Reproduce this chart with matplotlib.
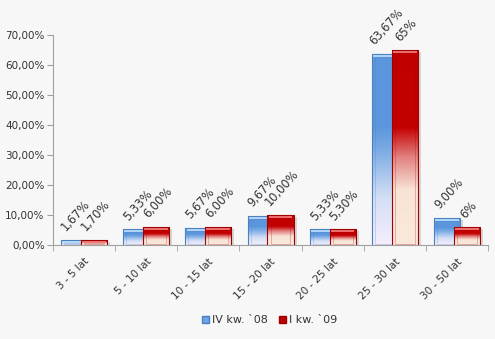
import numpy as np
import matplotlib.pyplot as plt
from matplotlib.colors import LinearSegmentedColormap
from matplotlib.patches import Rectangle, Patch

categories = ["3 - 5 lat", "5 - 10 lat", "10 - 15 lat", "15 - 20 lat",
              "20 - 25 lat", "25 - 30 lat", "30 - 50 lat"]
q4_08 = [1.67, 5.33, 5.67, 9.67, 5.33, 63.67, 9.00]
q1_09 = [1.70, 6.00, 6.00, 10.00, 5.30, 65.0, 6.0]
q4_labels = ["1,67%", "5,33%", "5,67%", "9,67%", "5,33%", "63,67%", "9,00%"]
q1_labels = ["1,70%", "6,00%", "6,00%", "10,00%", "5,30%", "65%", "6%"]
series_names = ["IV kw. `08", "I kw. `09"]
yticks = [0, 10, 20, 30, 40, 50, 60, 70]

bg = "#f7f7f7"
txt = "#333333"

blue_cmap = LinearSegmentedColormap.from_list("b", [
    (0.0, "#f6effc"), (0.25, "#d3def5"), (0.5, "#7aaae4"),
    (0.62, "#5b96dd"), (1.0, "#5b96dd")])
red_cmap = LinearSegmentedColormap.from_list("r", [
    (0.0, "#fae9da"), (0.28, "#f8e4d6"), (0.45, "#e28080"),
    (0.6, "#c40000"), (1.0, "#c00000")])

fig = plt.figure(figsize=(4.95, 3.39), dpi=100, facecolor=bg)
ax = fig.add_axes([0.107, 0.277, 0.879, 0.62], facecolor=bg)

x = np.arange(len(categories))
w = 0.42
off = 0.16
grad = np.linspace(0, 1, 256).reshape(-1, 1)


def draw_bars(xs, vals, cmap, edge, hl, z):
    bars = ax.bar(xs, vals, w, color="none", edgecolor="none", zorder=z)
    for b in bars:
        bx, by = b.get_x(), b.get_y()
        bw, bh = b.get_width(), b.get_height()
        # shadow
        ax.add_patch(Rectangle((bx + 0.05, by - 0.6), bw, bh, facecolor="#999999",
                               alpha=0.35, edgecolor="none", zorder=z - 0.5))
        im = ax.imshow(grad, cmap=cmap, origin="lower", aspect="auto",
                       extent=(bx, bx + bw, by, by + bh), zorder=z,
                       interpolation="bilinear")
        rect = Rectangle((bx, by), bw, bh, transform=ax.transData)
        im.set_clip_path(rect)
        # bevel
        ax.add_patch(Rectangle((bx, by), bw, bh, facecolor="none",
                               edgecolor=edge, lw=0.8, zorder=z + 0.1))
        ax.add_patch(Rectangle((bx + 0.05, by + 0.5), bw - 0.1, max(bh - 1.6, 0),
                               facecolor="none", edgecolor=edge, lw=0.5,
                               alpha=0.35, zorder=z + 0.1))
        ax.add_patch(Rectangle((bx + 0.02, by + bh - 0.9), bw - 0.04, 0.7,
                               facecolor=hl, edgecolor="none", alpha=0.9,
                               zorder=z + 0.2))
    return bars


b1 = draw_bars(x - off, q4_08, blue_cmap, "#4a7fc0", "#b9dcfb", 2)
b2 = draw_bars(x + off, q1_09, red_cmap, "#a00000", "#f07a7a", 3)

for bars, labels in ((b1, q4_labels), (b2, q1_labels)):
    for b, lab in zip(bars, labels):
        ax.annotate(lab, (b.get_x() + b.get_width() / 2 + 0.03, b.get_height()),
                    xytext=(0, 4.5), textcoords="offset points", rotation=48,
                    ha="center", va="bottom", fontsize=8.3, color=txt, zorder=5,
                    annotation_clip=False)

ax.set_xlim(-0.5, len(categories) - 0.5)
ax.set_ylim(0, 70)
ax.set_yticks(yticks)
ax.set_yticklabels([f"{v},00%" for v in yticks], fontsize=7.5, color=txt)
ax.set_xticks(x)
ax.set_xticklabels(categories, rotation=45, ha="right", rotation_mode="anchor",
                   fontsize=7.5, color=txt)
ax.set_xticks(np.arange(len(categories) + 1) - 0.5, minor=True)
ax.tick_params(axis="x", which="major", length=0, pad=8)
ax.tick_params(axis="x", which="minor", length=4, color="#a0a0a0")
ax.tick_params(axis="y", length=4, color="#a0a0a0", pad=2)
for s in ("top", "right"):
    ax.spines[s].set_visible(False)
for s in ("left", "bottom"):
    ax.spines[s].set_color("#a0a0a0")

handles = [Patch(facecolor="#6aa3e6", edgecolor="#4a7fc0"),
           Patch(facecolor="#c00000", edgecolor="#a00000")]
fig.legend(handles, series_names, loc="center", bbox_to_anchor=(0.545, 0.055),
           ncol=2, frameon=False, fontsize=8, handlelength=0.6, handleheight=0.6,
           handletextpad=0.3, columnspacing=1.0, labelcolor=txt)

fig.savefig("out.png", dpi=100, facecolor=bg)
